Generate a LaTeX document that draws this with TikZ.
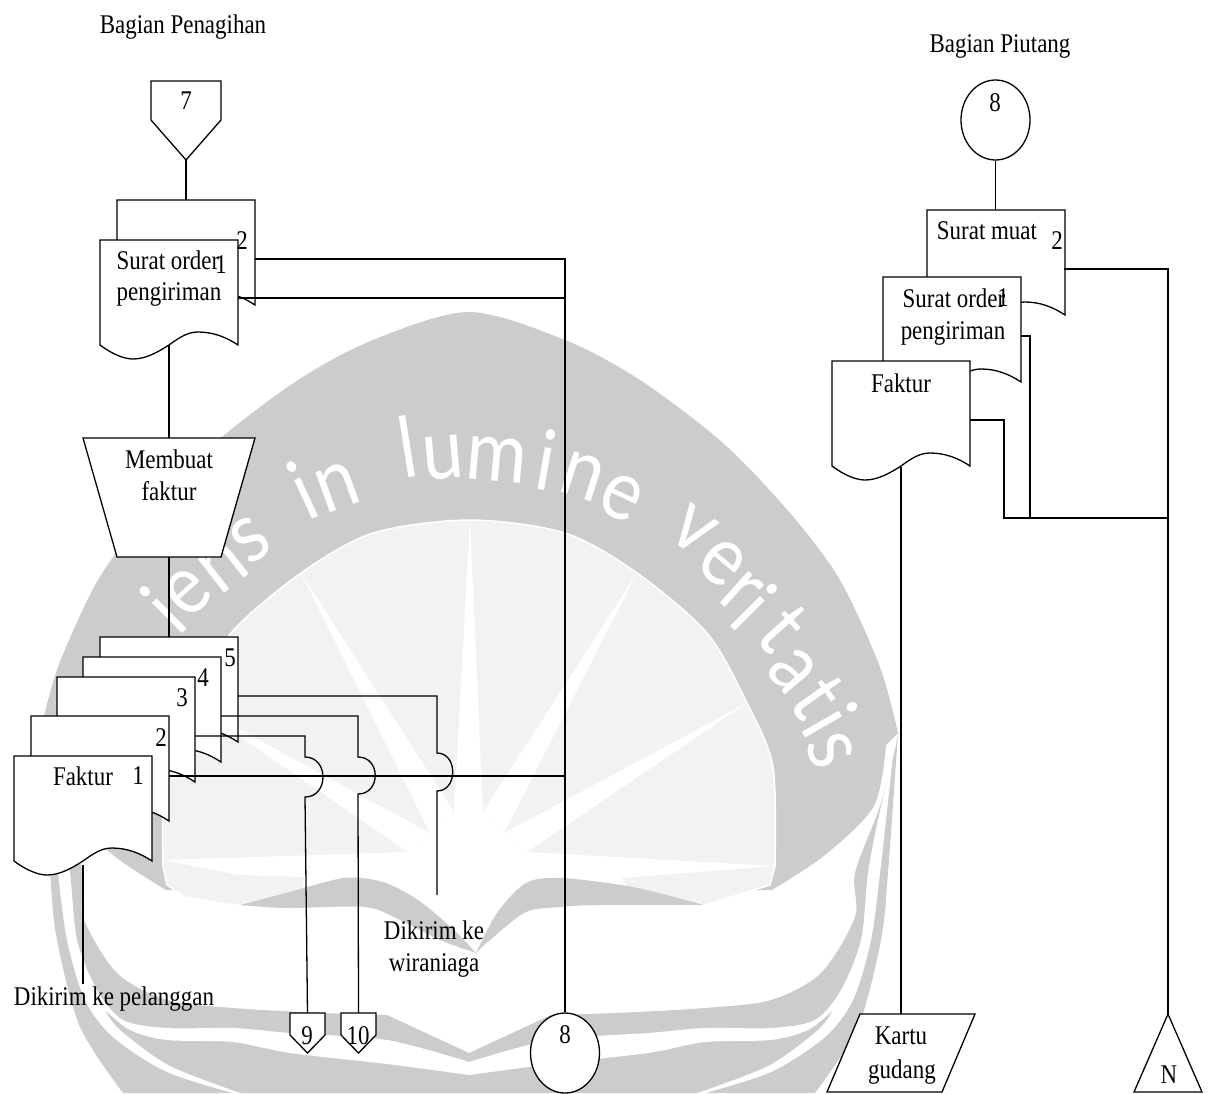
\documentclass[tikz,border=0pt]{standalone}
\usepackage{fontspec}
\setmainfont[FakeStretch=0.85]{Liberation Serif}
\newfontfamily\wmfont[FakeStretch=0.88]{Lato}
\usetikzlibrary{shapes.geometric}
\definecolor{wmgray}{HTML}{CCCCCC}
\definecolor{wmlight}{HTML}{F2F2F2}
\tikzset{
  shapeln/.style={draw=black,fill=white,line width=1.3pt,line join=miter},
  conn/.style={draw=black,line width=1.3pt,line join=miter},
  ghost/.style={inner sep=0pt,outer sep=0pt,draw=none},
  lbl/.style={inner sep=0pt,outer sep=0pt,font=\fontsize{27}{30}\selectfont,align=center},
  wmch/.style={inner sep=0pt,outer sep=0pt,text=white,font=\wmfont\fontsize{84}{84}\selectfont},
  circ/.style={ellipse,draw=black,fill=white,line width=1.3pt,inner sep=0pt,minimum width=69pt,minimum height=80pt}
}
% document symbol: name, left x, top y
\newcommand\docu[3]{%
  \node[ghost,minimum width=138pt,minimum height=105pt] (#1) at (#2+69,#3+52.5) {};
  \draw[shapeln,shift={(#2,#3)}] (0,0) -- (138,0) -- (138,105)
    .. controls (126,97) and (113,92) .. (98,92)
    .. controls (88,92) and (80,97) .. (69,105)
    .. controls (58,112) and (46,119) .. (33,119)
    .. controls (24,119) and (12,114) .. (0,105) -- cycle;}
% off-page connector: name, centre x, top y, half width, shoulder depth, tip depth
\newcommand\offp[6]{%
  \node[ghost,minimum width=2*#4 pt,minimum height=#6 pt] (#1) at (#2,#3+#6/2) {};
  \draw[shapeln] (#2-#4,#3) -- (#2+#4,#3) -- (#2+#4,#3+#5) -- (#2,#3+#6) -- (#2-#4,#3+#5) -- cycle;}
% one half of the background emblem (left one; mirrored for the right)
\newcommand\wmhalf{%
  \fill[wmgray] plot[smooth] coordinates {(40,733)(50,873)(57,940)(80,1027)(123,1093)}
     -- (469,1093) -- (469,1053)
     -- plot[smooth] coordinates {(387,1015)(323,1013)(233,1008)(167,1000)(117,973)(83,917)(83,873)(58,806)(42,745)} -- cycle;
  \fill[white] plot[smooth] coordinates {(45,755)(52,820)(58,873)(67,940)(85,1000)(113,1037)(167,1072)(240,1095)}
     -- plot[smooth] coordinates {(246,1095)(170,1066)(120,1030)(105,1010)}
     -- plot[smooth] coordinates {(105,1010)(130,1030)(167,1040)(233,1042)(290,1053)(387,1064)(469,1075)}
     -- (469,1062)
     -- plot[smooth] coordinates {(469,1062)(387,1040)(290,1033)(233,1028)(167,1028)(123,1020)(97,990)(77,940)(70,873)(60,820)(45,755)} -- cycle;
}
\begin{document}
\begin{tikzpicture}[x=1pt,y=-1pt]
\useasboundingbox (0,0) rectangle (1213,1093);
% ---------- background emblem ----------
\fill[wmgray] plot[smooth] coordinates {(40,733)(58,667)(98,580)(148,513)(215,443)(298,380)(373,340)(469,312)(565,340)(640,380)(723,443)(790,513)(840,580)(880,667)(898,733)}
   -- (886,745) -- plot[smooth] coordinates {(886,745)(874,806)(825,855)(772,890)}
   -- (166,890) -- plot[smooth] coordinates {(166,890)(113,855)(64,806)(52,745)} -- cycle;
\wmhalf
\begin{scope}[shift={(938,0)},xscale=-1]\wmhalf\end{scope}
\foreach \c/\x/\y/\r [count=\n] in {i/163/610/45,e/188/593/42,n/223/567/38,s/250/540/35,i/303/490/25,n/337/487/20,l/407/447/9,u/443/458/5,m/497/460/-5,i/547/460/-10,n/583/476/-18,e/621/497/-25,v/693/530/-35,e/722/563/-40,r/741/592/-42,i/754/607/-45,t/783/629/-48,a/793/671/-50,t/818/697/-55,i/830/720/-60,s/830/750/-68}
  \node[wmch,rotate=\r] (wm\n) at (\x,\y) {\c};
\filldraw[fill=wmlight,draw=white,line width=1.5pt]
   plot[smooth] coordinates {(163,866)(165,767)(191,703)(231,633)(301,573)(373,533)(470,520)(565,533)(637,573)(707,633)(747,703)(773,767)(775,866)}
   -- (770,885) -- (704,905) -- (234,905) -- (185,897) -- (167,885) -- cycle;
\fill[white] (470,520) -- (483,812) -- (454,812) -- cycle;
\fill[white] (637,573) -- (504,833) -- (483,812) -- cycle;
\fill[white] (747,703) -- (527,852) -- (504,833) -- cycle;
\fill[white] (301,573) -- (454,812) -- (430,833) -- cycle;
\fill[white] (191,703) -- (430,833) -- (408,852) -- cycle;
\fill[white] (163,860) -- (408,852) -- (430,833) -- (454,812) -- (483,812) -- (504,833) -- (527,852) -- (775,866)
   -- (622,878) -- (640,910) -- (300,910) -- (304,877) -- (240,875) -- cycle;
\fill[wmgray] plot[smooth] coordinates {(240,905)(286,893)(344,878)(383,882)(418,900)(454,930)(476,953)}
   -- plot[smooth] coordinates {(476,953)(440,940)(400,920)(365,907)(286,908)(240,905)} -- cycle;
\fill[wmgray] plot[smooth] coordinates {(476,953)(497,913)(526,883)(561,878)(633,887)(704,905)}
   -- plot[smooth] coordinates {(704,905)(597,905)(561,907)(526,912)(490,940)(476,953)} -- cycle;
% ---------- left column shapes ----------
\offp{op7}{186}{81}{35}{39}{79}
\docu{sob}{117}{200}
\docu{sof}{100}{240}
\node[ghost,minimum width=172pt,minimum height=119pt] (tz) at (169,497.5) {};
\draw[shapeln] (83,438) -- (255,438) -- (221,557) -- (117,557) -- cycle;
\docu{fk5}{100}{637}
\docu{fk4}{83}{657}
\docu{fk3}{57}{677}
\docu{fk2}{31}{716}
\docu{fk1}{14}{756}
\offp{op9}{307.5}{1013}{17.5}{22}{40}
\offp{op10}{358.5}{1013}{17.5}{22}{40}
\node[circ] (c8b) at (565,1053) {};
% ---------- right column shapes ----------
\node[circ] (c8t) at (995.5,120) {};
\docu{sm}{927}{210}
\docu{so}{883}{277}
\docu{fk}{832}{361}
\node[ghost,minimum width=148pt,minimum height=78pt] (kg) at (901,1053) {};
\draw[shapeln] (860,1014) -- (975,1014) -- (942,1092) -- (827,1092) -- cycle;
\node[ghost,minimum width=68pt,minimum height=78pt] (nn) at (1168,1053) {};
\draw[shapeln] (1168,1014) -- (1202,1092) -- (1134,1092) -- cycle;
% ---------- free connector ends ----------
\coordinate (a1) at (255,259);   \coordinate (a2) at (238,298);
\coordinate (b5) at (238,696);   \coordinate (b5e) at (437,895);
\coordinate (b4) at (221,716);   \coordinate (b3) at (195,736);
\coordinate (b2) at (169,776);   \coordinate (b1) at (83,865);
\coordinate (b1e) at (83,984);
\coordinate (r2) at (1064,269);  \coordinate (r1) at (1021,336);
\coordinate (r0) at (970,420);   \coordinate (rb) at (1168,518);
\coordinate (sof-b) at (169,345); \coordinate (fk-b) at (901,467);
\coordinate (sm-t) at (995.5,210);
% ---------- connectors ----------
\draw[conn] (op7.south) -- (sob.north);
\draw[conn] (sof-b) -- (tz.north);
\draw[conn] (tz.south) -- (fk5.north);
\draw[conn] (a1) -| (c8b.north);
\draw[conn] (a2) -- (a2 -| c8b.north);
\draw[conn] (b2) -- (b2 -| c8b.north);
\draw[conn] (b5) -- (437,696) -- (437,753) .. controls (458,753) and (458,791) .. (437,791) -- (b5e);
\draw[conn] (b4) -- (358,716) -- (358,757) .. controls (381,757) and (381,794) .. (358,794) -- (op10.north);
\draw[conn] (b3) -- (305,736) -- (305,757) .. controls (329,757) and (329,797) .. (305,797) -- (op9.north);
\draw[conn] (b1) -- (b1e);
\draw[conn] (c8t.south) -- (sm-t);
\draw[conn] (r2) -- (1168,269) -- (nn.north);
\draw[conn] (r1) -- (1030,336) -- (1030,518) -- (rb);
\draw[conn] (r0) -- (1004,420) -- (1004,518) -- (rb);
\draw[conn] (fk-b) -- (kg.north);
% ---------- labels ----------
\node[lbl] (t0) at (183,27) {Bagian Penagihan};
\node[lbl] (t1) at (1000,46) {Bagian Piutang};
\node[lbl] (t2) at (186,101) {7};
\node[lbl] (t3) at (995,103) {8};
\node[lbl] (t4) at (242,241) {2};
\node[lbl] (t5) at (168,260) {Surat order};
\node[lbl] (t6) at (221,265) {1};
\node[lbl] (t7) at (169,294) {pengiriman};
\node[lbl] (t8) at (169,459) {Membuat};
\node[lbl] (t9) at (169,491) {faktur};
\node[lbl] (t10) at (230,658) {5};
\node[lbl] (t11) at (203,678) {4};
\node[lbl] (t12) at (182,698) {3};
\node[lbl] (t13) at (161,738) {2};
\node[lbl] (t14) at (83,776) {Faktur};
\node[lbl] (t15) at (138,776) {1};
\node[lbl] (t16) at (434,930) {Dikirim ke};
\node[lbl] (t17) at (434,965) {wiraniaga};
\node[lbl] (t18) at (114,999) {Dikirim ke pelanggan};
\node[lbl] (t19) at (307,1036) {9};
\node[lbl] (t20) at (358,1036) {10};
\node[lbl] (t21) at (565,1035) {8};
\node[lbl] (t22) at (987,231) {Surat muat};
\node[lbl] (t23) at (1057,241) {2};
\node[lbl] (t24) at (954,298) {Surat order};
\node[lbl] (t25) at (1003,298) {1};
\node[lbl] (t26) at (953,333) {pengiriman};
\node[lbl] (t27) at (901,383) {Faktur};
\node[lbl] (t28) at (901,1036) {Kartu};
\node[lbl] (t29) at (902,1072) {gudang};
\node[lbl] (t30) at (1169,1075) {N};
\end{tikzpicture}
\end{document}
